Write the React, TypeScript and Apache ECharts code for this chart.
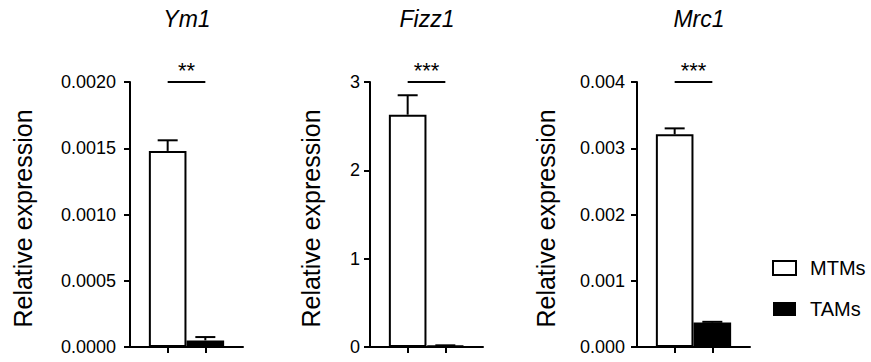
import { useEffect, useRef } from 'react';
import * as echarts from 'echarts';

// ---- data ----
const genes = ['Ym1', 'Fizz1', 'Mrc1'];
const groups = ['MTMs', 'TAMs'];
const xCategories = ['L', 'MTMs', 'TAMs', 'R'];
const mtmMeans = [0.00148, 2.63, 0.00321];
const mtmErrors = [0.00008, 0.22, 0.00009];
const tamMeans = [0.00005, 0.015, 0.00037];
const tamErrors = [0.000025, 0.004, 0.00001];
const yMax = [0.002, 3, 0.004];
const yInterval = [0.0005, 1, 0.001];
const yDecimals = [4, 0, 3];
const significance = ['**', '***', '***'];
const yAxisName = 'Relative expression';

// ---- layout ----
const FONT = '"Liberation Sans", Arial, Helvetica, sans-serif';
const gridLefts = [130, 370, 637];
const titleCenters = [187, 427, 699];
const nameGaps = [95, 47, 79];
const labelMargins = [14, 10, 12];

export default function App() {
  const ref = useRef<HTMLDivElement>(null);

  useEffect(() => {
    if (!ref.current) return;
    const chart = echarts.init(ref.current, undefined, { renderer: 'svg' });

    const black = '#000';
    const legendText = { fontSize: 20, fontFamily: FONT, color: black, padding: [0, 0, 0, 9] };
    const series: any[] = [];
    genes.forEach((_, i) => {
      series.push({
        type: 'bar',
        name: groups[0],
        xAxisIndex: i,
        yAxisIndex: i,
        data: [[groups[0], mtmMeans[i]]],
        barWidth: 37.6,
        barGap: '-100%',
        itemStyle: { color: '#fff', borderColor: black, borderWidth: 2 },
        z: 2,
        markLine: {
          silent: true,
          symbol: 'none',
          lineStyle: { color: black, width: 2, type: 'solid' },
          label: {
            show: true,
            position: 'middle',
            formatter: significance[i],
            fontSize: 22,
            fontFamily: FONT,
            color: black,
            distance: 1,
          },
          emphasis: { disabled: true },
          data: [[{ coord: [1, yMax[i]] }, { coord: [2, yMax[i]] }]],
        },
      });
      series.push({
        type: 'bar',
        name: groups[1],
        xAxisIndex: i,
        yAxisIndex: i,
        data: [[groups[1], tamMeans[i]]],
        barWidth: 37.6,
        barGap: '-100%',
        itemStyle: { color: black, borderColor: black, borderWidth: 2 },
        z: 2,
      });
      series.push({
        type: 'custom',
        xAxisIndex: i,
        yAxisIndex: i,
        z: 3,
        silent: true,
        encode: { x: 0, y: 1 },
        data: [
          [groups[0], mtmMeans[i], mtmErrors[i]],
          [groups[1], tamMeans[i], tamErrors[i]],
        ],
        renderItem: (params: any, api: any) => {
          const x = api.value(0);
          const v = api.value(1);
          const e = api.value(2);
          const base = api.coord([x, v]);
          const top = api.coord([x, v + e]);
          const half = 10;
          const st = { stroke: black, lineWidth: 2 };
          return {
            type: 'group',
            children: [
              { type: 'line', shape: { x1: base[0], y1: base[1], x2: top[0], y2: top[1] }, style: st },
              { type: 'line', shape: { x1: top[0] - half, y1: top[1], x2: top[0] + half, y2: top[1] }, style: st },
            ],
          };
        },
      });
    });

    const option: any = {
      animation: false,
      backgroundColor: '#fff',
      grid: genes.map((_, i) => ({
        left: gridLefts[i],
        top: 82,
        width: 113,
        height: 265,
        containLabel: false,
      })),
      xAxis: genes.map((_, i) => ({
        type: 'category',
        gridIndex: i,
        data: xCategories,
        boundaryGap: false,
        axisLine: { show: true, lineStyle: { color: black, width: 2 } },
        axisTick: {
          show: true,
          length: 6,
          lineStyle: { color: black, width: 2 },
          interval: (idx: number) => idx === 1 || idx === 2,
        },
        axisLabel: { show: false },
        splitLine: { show: false },
      })),
      yAxis: genes.map((_, i) => ({
        type: 'value',
        gridIndex: i,
        min: 0,
        max: yMax[i],
        interval: yInterval[i],
        name: yAxisName,
        nameLocation: 'middle',
        nameGap: nameGaps[i],
        nameTextStyle: { fontSize: 25, fontFamily: FONT, color: black, padding: [0, 8, 0, 0] },
        axisLine: { show: true, lineStyle: { color: black, width: 2 } },
        axisTick: { show: true, length: 6, lineStyle: { color: black, width: 2 } },
        axisLabel: {
          fontSize: 18,
          fontFamily: FONT,
          color: black,
          margin: labelMargins[i],
          formatter: (v: number) => v.toFixed(yDecimals[i]),
        },
        splitLine: { show: false },
      })),
      legend: {
        orient: 'vertical',
        left: 772,
        top: 258,
        itemWidth: 23,
        itemHeight: 14,
        itemGap: 21,
        icon: 'rect',
        selectedMode: false,
        padding: 0,
        data: [
          {
            name: groups[0],
            itemStyle: { color: '#fff', borderColor: black, borderWidth: 2 },
            textStyle: legendText,
          },
          {
            name: groups[1],
            itemStyle: { color: black, borderColor: black, borderWidth: 0 },
            textStyle: legendText,
          },
        ],
        textStyle: legendText,
      },
      graphic: genes.map((g, i) => ({
        type: 'text',
        x: titleCenters[i],
        y: 19,
        z: 100,
        style: {
          text: g,
          fill: black,
          fontStyle: 'italic',
          fontSize: 23,
          fontFamily: FONT,
          align: 'center',
          verticalAlign: 'middle',
          textAlign: 'center',
          textVerticalAlign: 'middle',
        },
      })),
      series,
    };

    chart.setOption(option);
    return () => chart.dispose();
  }, []);

  return (
    <div
      ref={ref}
      style={{ position: 'fixed', left: 0, top: 0, width: 871, height: 362, background: '#fff' }}
    />
  );
}
